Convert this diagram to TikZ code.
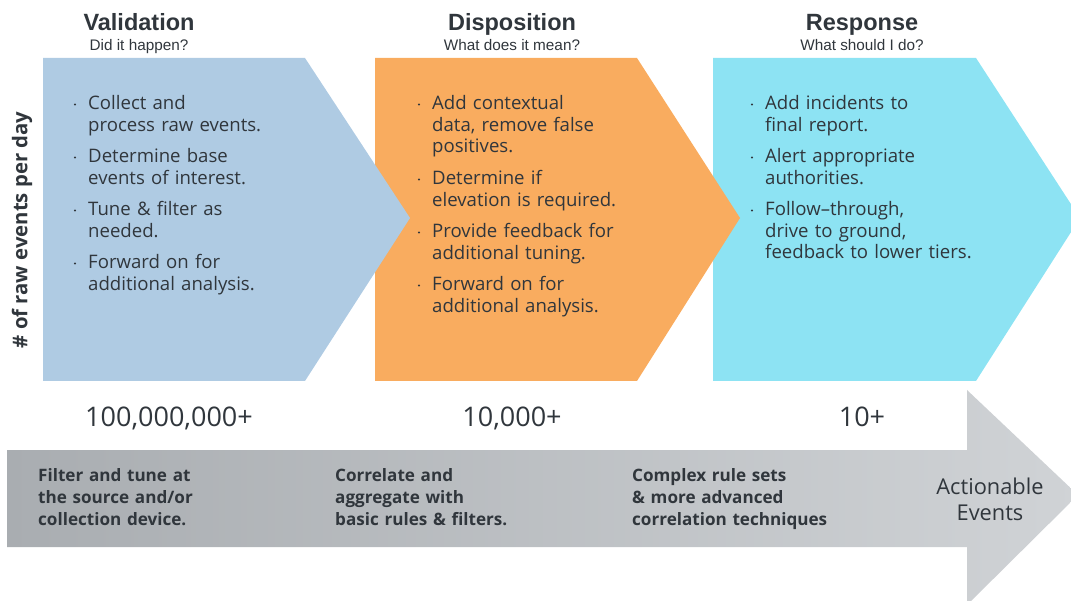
\documentclass[tikz,border=0pt]{standalone}
\usepackage{fontspec}
\setmainfont{Open Sans}
\newfontfamily\titlefont{Liberation Sans}
\usetikzlibrary{calc}
\definecolor{cblue}{HTML}{AFCBE3}
\definecolor{corange}{HTML}{F9AC5F}
\definecolor{ccyan}{HTML}{8DE3F3}
\definecolor{gleft}{HTML}{A9ADB1}
\definecolor{gright}{HTML}{D0D3D6}
\definecolor{txt}{HTML}{30363C}
\tikzset{
  title/.style={font=\titlefont\fontsize{23.5}{26}\selectfont\bfseries, text=txt, inner sep=0pt, anchor=base},
  subtitle/.style={font=\titlefont\fontsize{15.3}{17}\selectfont, text=txt, inner sep=0pt, anchor=base},
  item/.style={font=\fontsize{18.6}{21.5}\selectfont, text=txt, inner sep=0pt, anchor=base west, text width=260pt, align=left},
  dotmark/.style={circle, fill=txt, inner sep=0pt, minimum size=2.4pt},
  count/.style={font=\fontsize{27}{30}\selectfont, text=txt, inner sep=0pt, anchor=base},
  graytext/.style={font=\fontsize{17.1}{22}\selectfont\bfseries, text=txt, inner sep=0pt, anchor=base west, text width=260pt, align=left},
}
\begin{document}
\begin{tikzpicture}[x=1pt,y=-1pt]
\useasboundingbox (0,0) rectangle (1071,601);
\clip (0,0) rectangle (1071,601);
% chevrons
\fill[ccyan] (713,58) -- (976,58) -- (1080,218) -- (976,381) -- (713,381) -- cycle;
\fill[corange] (375,58) -- (637,58) -- (740,218) -- (637,381) -- (375,381) -- cycle;
\fill[cblue] (43,58) -- (305,58) -- (410,218) -- (305,381) -- (43,381) -- cycle;
% gray arrow
\shade[left color=gleft, right color=gright] (7,450) -- (967,450) -- (967,390) -- (1078,495) -- (967,605) -- (967,547) -- (7,547) -- cycle;
% titles
\node[title] (t1) at (139,31) {Validation};
\node[subtitle] (s1) at (139,51) {Did it happen?};
\node[title] (t2) at (512,31) {Disposition};
\node[subtitle] (s2) at (512,51) {What does it mean?};
\node[title] (t3) at (862,31) {Response};
\node[subtitle] (s3) at (862,51) {What should I do?};
% axis label
\node[font=\fontsize{20.3}{22}\selectfont\bfseries, text=txt, rotate=90, inner sep=0pt] (axis) at (22,230) {\# of raw events per day};
% blue items
\foreach \y/\t [count=\i] in {110/{Collect and\\process raw events.},163/{Determine base\\events of interest.},216/{Tune \& filter as\\needed.},269/{Forward on for\\additional analysis.}}{
  \node[dotmark] (bd\i) at (75,\y-5.5) {};
  \node[item] (b\i) at (88,\y) {\t};
}
% orange items
\foreach \y/\t [count=\i] in {110/{Add contextual\\data, remove false\\positives.},185/{Determine if\\elevation is required.},238/{Provide feedback for\\additional tuning.},291/{Forward on for\\additional analysis.}}{
  \node[dotmark] (od\i) at (419,\y-5.5) {};
  \node[item] (o\i) at (432,\y) {\t};
}
% cyan items
\foreach \y/\t [count=\i] in {110/{Add incidents to\\final report.},163/{Alert appropriate\\authorities.},216/{Follow–through,\\drive to ground,\\feedback to lower tiers.}}{
  \node[dotmark] (cd\i) at (752,\y-5.5) {};
  \node[item] (c\i) at (765,\y) {\t};
}
% counts
\node[count] (n1) at (169,427) {100,000,000+};
\node[count] (n2) at (512,427) {10,000+};
\node[count] (n3) at (862,427) {10+};
% gray texts
\node[graytext] (g1) at (38,481) {Filter and tune at\\the source and/or\\collection device.};
\node[graytext] (g2) at (335,481) {Correlate and\\aggregate with\\basic rules \& filters.};
\node[graytext] (g3) at (632,481) {Complex rule sets\\\& more advanced\\correlation techniques};
\node[font=\fontsize{21.8}{26}\selectfont, text=txt, inner sep=0pt, align=center] (ae) at (990,499) {Actionable\\Events};
\end{tikzpicture}
\end{document}
